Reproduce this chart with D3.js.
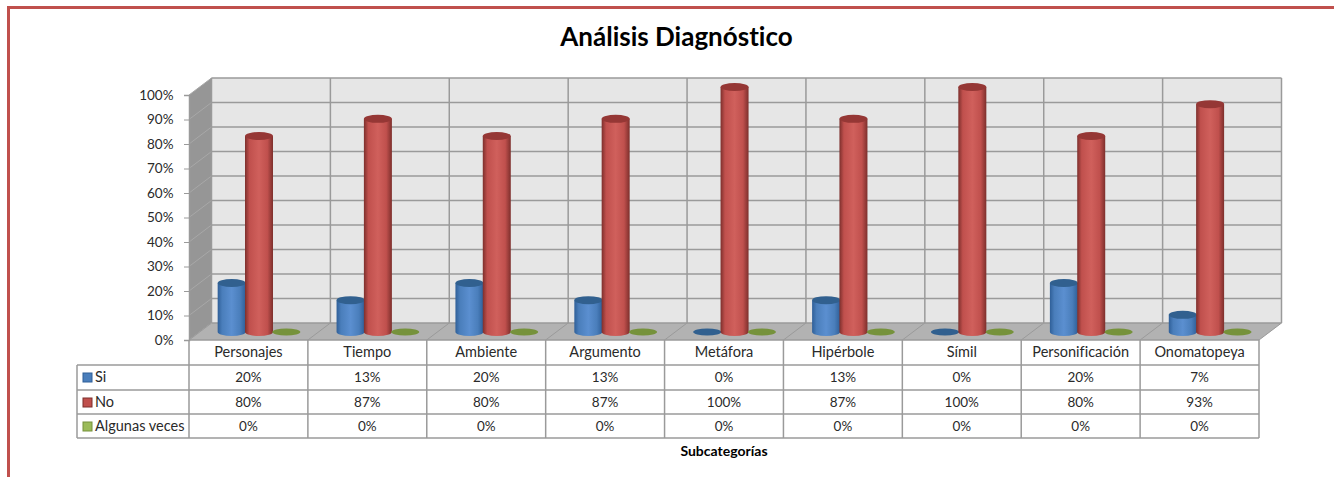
<!DOCTYPE html>
<html>
<head>
<meta charset="utf-8">
<script src="https://cdn.jsdelivr.net/npm/d3@7"></script>
<style>
html, body { margin: 0; padding: 0; background: #fff; overflow: hidden; }
svg { display: block; }
text { font-family: Lato, "Open Sans", sans-serif; fill: #2a2a2a; font-variant-ligatures: none; }
</style>
</head>
<body>
<svg id="chart" width="1334" height="477"></svg>
<script>
const categories = ['Personajes', 'Tiempo', 'Ambiente', 'Argumento', 'Metáfora', 'Hipérbole', 'Símil', 'Personificación', 'Onomatopeya'];
const seriesNames = ['Si', 'No', 'Algunas veces'];
const si = [20, 13, 20, 13, 0, 13, 0, 20, 7];
const no = [80, 87, 80, 87, 100, 87, 100, 80, 93];
const algunas = [0, 0, 0, 0, 0, 0, 0, 0, 0];
const yTicks = [0, 10, 20, 30, 40, 50, 60, 70, 80, 90, 100];
const seriesValues = [si, no, algunas];

const colors = [
    { light: '#5b8fd0', mid: '#4a7ebb', dark: '#2f5f98', top: '#31608f' },
    { light: '#d0605c', mid: '#c0504d', dark: '#7d2f2c', top: '#953735' },
    { light: '#9bbb59', mid: '#9bbb59', dark: '#76923c', top: '#76923c' }
];
const gridColor = '#9a9a9a';

const svg = d3.select('svg#chart');

const left = 189, right = 1259, floorY = 340, topY = 95;
const depthX = 22.5, depthY = -17;
const labelCol = 77;
const rowY = [340, 365, 390, 414, 438];

const x = d3.scaleBand().domain(categories).range([left, right]);
const y = d3.scaleLinear().domain([0, 100]).range([floorY, topY]);
// offset of each cylinder inside its category
const barX = d3.scaleBand().domain(d3.range(3)).range([29, 111]);

// page frame
svg.append('path')
    .attr('d', 'M8.5,477V7.5H1334')
    .attr('fill', 'none')
    .attr('stroke', '#c0504d')
    .attr('stroke-width', 3);

svg.append('text')
    .attr('x', 676.5).attr('y', 46)
    .attr('text-anchor', 'middle')
    .attr('font-size', 26)
    .attr('font-weight', 700)
    .style('fill', '#000')
    .text('Análisis Diagnóstico');

// gradients
const defs = svg.append('defs');
colors.forEach((c, i) => {
    const g = defs.append('linearGradient').attr('id', 'cyl' + i);
    g.append('stop').attr('offset', '0%').attr('stop-color', c.dark);
    g.append('stop').attr('offset', '16%').attr('stop-color', c.mid);
    g.append('stop').attr('offset', '50%').attr('stop-color', c.light);
    g.append('stop').attr('offset', '80%').attr('stop-color', c.mid);
    g.append('stop').attr('offset', '100%').attr('stop-color', c.dark);
});

// walls and floor
const wall = svg.append('g');
wall.append('rect')
    .attr('x', left + depthX).attr('y', y(100) + depthY)
    .attr('width', right - left).attr('height', y(0) - y(100))
    .attr('fill', '#e6e6e6');
wall.append('polygon')
    .attr('points', [[left, y(0)], [left, y(100)], [left + depthX, y(100) + depthY], [left + depthX, y(0) + depthY]].join(' '))
    .attr('fill', '#969696');
wall.append('polygon')
    .attr('points', [[left, y(0)], [right, y(0)], [right + depthX, y(0) + depthY], [left + depthX, y(0) + depthY]].join(' '))
    .attr('fill', '#b2b2b2');

wall.selectAll('line.back-h').data(yTicks).join('line')
    .attr('class', 'back-h')
    .attr('x1', left + depthX).attr('x2', right + depthX)
    .attr('y1', d => y(d) + depthY).attr('y2', d => y(d) + depthY)
    .attr('stroke', gridColor).attr('stroke-width', 1.5);
wall.selectAll('line.side').data(yTicks).join('line')
    .attr('class', 'side')
    .attr('x1', left).attr('x2', left + depthX)
    .attr('y1', d => y(d)).attr('y2', d => y(d) + depthY)
    .attr('stroke', '#a8a8a8').attr('stroke-width', 1);

const xEdges = categories.map(c => x(c)).concat(right);
wall.selectAll('line.back-v').data(xEdges).join('line')
    .attr('class', 'back-v')
    .attr('x1', d => d + depthX).attr('x2', d => d + depthX)
    .attr('y1', y(100) + depthY).attr('y2', y(0) + depthY)
    .attr('stroke', gridColor).attr('stroke-width', 1.5);
wall.selectAll('line.floor').data(xEdges).join('line')
    .attr('class', 'floor')
    .attr('x1', d => d).attr('x2', d => d + depthX)
    .attr('y1', y(0)).attr('y2', y(0) + depthY)
    .attr('stroke', gridColor).attr('stroke-width', 1);

// cylinders
const rx = 14, ry = 4, baseLift = 8;
categories.forEach((cat, ci) => {
    seriesValues.forEach((vals, si_) => {
        const cx = x(cat) + barX(si_) + barX.bandwidth() / 2;
        const v = vals[ci];
        const bottom = y(0) - baseLift;
        const top = y(v) - baseLift;
        const g = svg.append('g');
        if (v > 0) {
            g.append('path')
                .attr('d', `M${cx - rx},${top}V${bottom}A${rx},${ry} 0 0 0 ${cx + rx},${bottom}V${top}Z`)
                .attr('fill', `url(#cyl${si_})`);
        }
        g.append('ellipse')
            .attr('cx', cx).attr('cy', top)
            .attr('rx', rx).attr('ry', v > 0 ? ry : 3.5)
            .attr('fill', colors[si_].top);
    });
});

// axis
const axis = d3.axisLeft(y).tickValues(yTicks).tickSize(5).tickPadding(10.5).tickFormat(d => d + '%');
const axisG = svg.append('g').attr('transform', `translate(${left},0)`).call(axis);
axisG.select('.domain').attr('stroke', gridColor).attr('stroke-width', 1.5);
axisG.selectAll('.tick line').attr('stroke', gridColor).attr('stroke-width', 1);
axisG.selectAll('.tick text').attr('font-size', 13.5).attr('font-family', 'Lato').style('fill', '#2a2a2a');

// data table
const table = svg.append('g');
const line = (x1, y1, x2, y2) => table.append('line')
    .attr('x1', x1).attr('y1', y1).attr('x2', x2).attr('y2', y2)
    .attr('stroke', gridColor).attr('stroke-width', 1.5);

line(left, rowY[0], right, rowY[0]);
rowY.slice(1).forEach(ry_ => line(labelCol, ry_, right, ry_));
line(labelCol, rowY[1], labelCol, rowY[4]);
xEdges.forEach(e => line(e, rowY[0], e, rowY[4]));

const centerY = r => (rowY[r] + rowY[r + 1]) / 2 + 4.5;

table.selectAll('text.cat').data(categories).join('text')
    .attr('class', 'cat')
    .attr('x', d => x(d) + x.bandwidth() / 2)
    .attr('y', centerY(0))
    .attr('text-anchor', 'middle')
    .attr('font-size', 14.5)
    .text(d => d);

seriesNames.forEach((name, i) => {
    table.append('rect')
        .attr('x', labelCol + 6).attr('y', rowY[i + 1] + 8)
        .attr('width', 9).attr('height', 9)
        .attr('fill', colors[i].mid)
        .attr('stroke', colors[i].dark);
    table.append('text')
        .attr('x', labelCol + 18).attr('y', centerY(i + 1))
        .attr('font-size', 14.5)
        .text(name);
    table.selectAll('text.val' + i).data(categories).join('text')
        .attr('class', 'val' + i)
        .attr('x', d => x(d) + x.bandwidth() / 2)
        .attr('y', centerY(i + 1))
        .attr('text-anchor', 'middle')
        .attr('font-size', 13.5)
        .text((d, j) => seriesValues[i][j] + '%');
});

svg.append('text')
    .attr('x', 724).attr('y', 455.5)
    .attr('text-anchor', 'middle')
    .attr('font-size', 14)
    .attr('font-weight', 700)
    .style('fill', '#000')
    .text('Subcategorías');
</script>
</body>
</html>
